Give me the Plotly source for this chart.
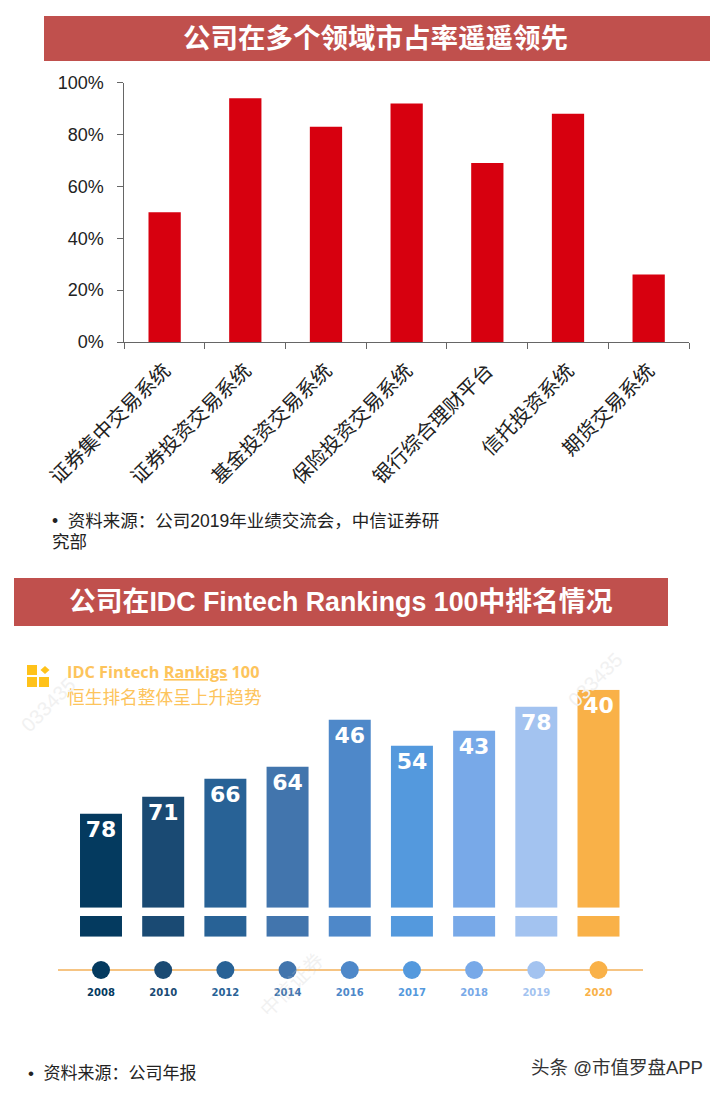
import plotly.graph_objects as go

W, H = 720, 1094
CJK = "Noto Sans CJK SC"
MIXED = "Liberation Sans, Noto Sans CJK SC"

# Upper chart
systems = ["证券集中交易系统", "证券投资交易系统", "基金投资交易系统", "保险投资交易系统",
           "银行综合理财平台", "信托投资系统", "期货交易系统"]
share = [50, 94, 83, 92, 69, 88, 26]
share_ticks = [0, 20, 40, 60, 80, 100]

# Lower chart
years = ["2008", "2010", "2012", "2014", "2016", "2017", "2018", "2019", "2020"]
ranks = [78, 71, 66, 64, 46, 54, 43, 78, 40]
bar_heights = [94, 111, 129, 141, 188, 162, 177, 201, 218]
strip_values = [1, 1, 1, 1, 1, 1, 1, 1, 1]
dot_values = [0, 0, 0, 0, 0, 0, 0, 0, 0]
year_colors = ["#043A5F", "#1A4A73", "#286296", "#4275AD", "#4E88C9",
               "#5499DD", "#78A9E8", "#A3C3F0", "#F9B148"]

title_top = "公司在多个领域市占率遥遥领先"
title_bottom = "公司在IDC Fintech Rankings 100中排名情况"


def px(x):
    return x / W


def py(y):
    return 1 - y / H


def dom_y(top, bottom):
    return [py(bottom), py(top)]


fig = go.Figure()
fig.add_trace(go.Bar(x=systems, y=share, width=0.4, marker=dict(color="#D7000F", line_width=0),
                     xaxis="x", yaxis="y", showlegend=False))
fig.add_trace(go.Bar(x=years, y=bar_heights, width=0.675, text=[str(r) for r in ranks],
                     textposition="inside", insidetextanchor="end", textangle=0,
                     insidetextfont=dict(family="DejaVu Sans", size=22, color="white", weight="bold"),
                     marker=dict(color=year_colors, line_width=0),
                     xaxis="x2", yaxis="y2", showlegend=False))
fig.add_trace(go.Bar(x=years, y=strip_values, width=0.675, marker=dict(color=year_colors, line_width=0),
                     xaxis="x2", yaxis="y3", showlegend=False))
fig.add_trace(go.Scatter(x=years, y=dot_values, mode="markers",
                         marker=dict(color=year_colors, size=18, line_width=0),
                         xaxis="x2", yaxis="y4", showlegend=False))


def rect(x0, y0, x1, y1, color):
    return dict(type="rect", xref="paper", yref="paper", x0=px(x0), x1=px(x1), y0=py(y1), y1=py(y0),
                fillcolor=color, line_width=0, layer="below")


icon = "#FFC21A"
shapes = [
    rect(44, 16, 710, 61, "#C0504D"),
    rect(14, 578, 668, 626, "#C0504D"),
    rect(27, 665, 37, 675, icon),
    rect(27, 677, 37, 687, icon),
    rect(39, 677, 49, 687, icon),
    dict(type="path", xref="paper", yref="paper",
         path=f"M {px(45)} {py(666)} L {px(49.5)} {py(670)} L {px(45)} {py(674)} L {px(40.5)} {py(670)} Z",
         fillcolor=icon, line_width=0, layer="below"),
]


def note(text, x, y, size, color, family=MIXED, anchor="left", angle=0, bold=False):
    left = x - 2 if anchor == "left" else x
    return dict(text=f"<b>{text}</b>" if bold else text, xref="paper", yref="paper", x=px(left), y=py(y),
                xanchor=anchor, yanchor="middle", showarrow=False, textangle=angle,
                font=dict(family=family, size=size, color=color))


annotations = [
    note(title_top, 375, 38.5, 27.5, "white", anchor="center", bold=True),
    note(title_bottom, 341, 602, 26.8, "white", anchor="center", bold=True),
    note("•  资料来源：公司2019年业绩交流会，中信证券研", 52, 521, 17.5, "#222222"),
    note("究部", 52, 542, 17.5, "#222222"),
    note("•  资料来源：公司年报", 28, 1073, 17, "#222222"),
    note("头条 @市值罗盘APP", 531, 1067, 18.5, "#333333"),
    note('IDC Fintech <span style="text-decoration:underline">Rankigs</span> 100', 67, 672, 16.3, "#FDC45C",
         family="Open Sans", bold=True),
    note("恒生排名整体呈上升趋势", 67, 698, 17.7, "#FDC45C"),
    note("033435", 48, 705, 20, "#F1F1F1", anchor="center", angle=-45, family="Liberation Sans"),
    note("033435", 595, 680, 20, "#F1F1F1", anchor="center", angle=-45, family="Liberation Sans"),
    note("中信证券", 292, 985, 20, "rgba(200,200,200,0.25)", anchor="center", angle=-45),
]

step = (598.5 - 101) / 8
x2_range = [-(101 - 58) / step, 8 + (643 - 598.5) / step]

hidden = dict(showgrid=False, zeroline=False, showticklabels=False, ticks="", showline=False,
              automargin=False)

fig.update_layout(
    width=W, height=H, margin=dict(l=0, r=0, t=0, b=0, pad=0, autoexpand=False),
    paper_bgcolor="white", plot_bgcolor="rgba(0,0,0,0)",
    barmode="overlay", showlegend=False,
    shapes=shapes, annotations=annotations,
    font=dict(family=CJK),
    xaxis=dict(domain=[px(124.3), px(689)], anchor="y", type="category", range=[-0.5, 6.5],
               showline=True, linecolor="#666666", linewidth=1, ticks="outside", ticklen=6,
               tickcolor="#666666", tickson="boundaries", tickangle=-45, automargin=False,
               tickfont=dict(family=CJK, size=20, color="#222222"), ticklabelstandoff=8,
               showgrid=False, zeroline=False),
    yaxis=dict(domain=dom_y(82.7, 342), anchor="x", range=[0, 100], tickvals=share_ticks,
               ticktext=[f"{v}%" for v in share_ticks], automargin=False,
               showline=True, linecolor="#666666", linewidth=1, ticks="outside", ticklen=6,
               tickcolor="#666666", tickfont=dict(family="Liberation Sans", size=18, color="#222222"),
               ticklabelstandoff=10, showgrid=False, zeroline=False),
    xaxis2=dict(domain=[px(58), px(643)], anchor="y4", type="category", range=x2_range,
                tickmode="array", tickvals=years, automargin=False,
                ticktext=[f'<span style="color:{c}"><b>{y}</b></span>' for y, c in zip(years, year_colors)],
                tickfont=dict(family="DejaVu Sans", size=10), ticks="", ticklabelstandoff=0,
                showline=False, showgrid=False, zeroline=False),
    yaxis2=dict(domain=dom_y(689.7, 907.7), anchor="x2", range=[0, 218], **hidden),
    yaxis3=dict(domain=dom_y(916, 936.7), anchor="x2", range=[0, 1], **hidden),
    yaxis4=dict(domain=dom_y(955, 985), anchor="x2", range=[-1, 1], showgrid=False, showticklabels=False,
                automargin=False, ticks="", showline=False, zeroline=True, zerolinecolor="#F6C483",
                zerolinewidth=1.5),
)

fig.write_html("out.html", config={"displayModeBar": False},
               post_script="document.body.style.margin='0';")
